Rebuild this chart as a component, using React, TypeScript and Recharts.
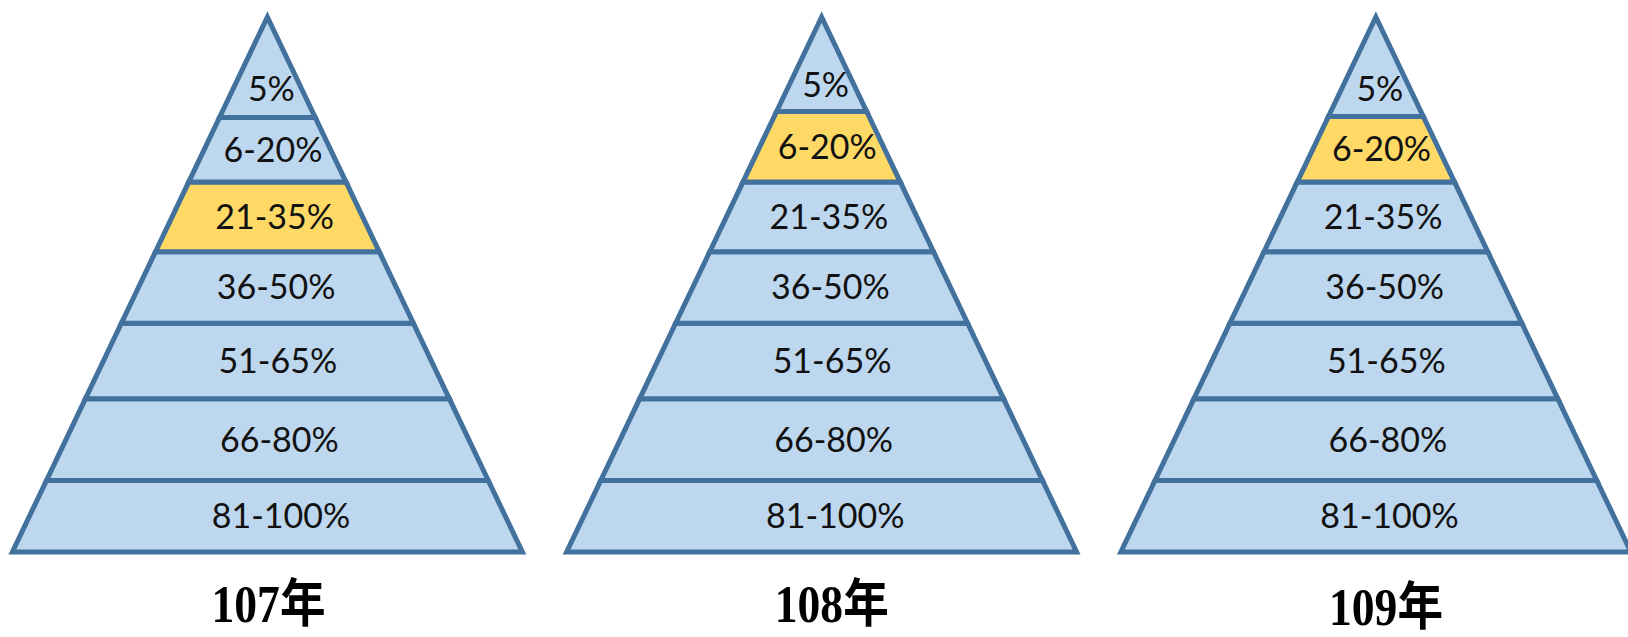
import { BarChart, Bar, XAxis, YAxis } from 'recharts';

// bands listed top (tip) to bottom (base)
const bands = ['5%', '6-20%', '21-35%', '36-50%', '51-65%', '66-80%', '81-100%'];
const years = ['107年', '108年', '109年'];

// drawn height of each band, top to bottom
const heights107 = [101, 65, 70, 72, 76, 82, 72];
const heights108 = [95, 71, 70, 72, 76, 82, 72];
const heights109 = [100, 66, 70, 72, 76, 82, 72];

// the band marked in yellow for each year
const highlighted = ['21-35%', '6-20%', '6-20%'];

const bandHeights = [heights107, heights108, heights109];
const data = years.map((year, r) => {
  const row: Record<string, string | number> = { year, highlight: highlighted[r] };
  bands.forEach((_, i) => {
    row[`b${i}`] = bandHeights[r][i];
  });
  return row;
});

const W = 1628;
const H = 637;
const PLOT_TOP = 17;
const PLOT_BOTTOM = 552;
const XAXIS_H = 60;
const BAR_W = 510;

const FILL = '#BDD7EE';
const HILITE = '#FFD966';
const EDGE = '#41719C';

// small per-year nudges for the year captions
const yearDx = [1, 10, 10];
const yearBase = [70, 70, 73];

function makeShape(bandIndex: number) {
  return function Trapezoid(props: any) {
    const { x, y, width, height, payload } = props;
    if (width == null || height == null) return null;
    const cx = x + width / 2;
    const span = PLOT_BOTTOM - PLOT_TOP;
    const hwTop = ((width / 2) * (y - PLOT_TOP)) / span;
    const hwBot = ((width / 2) * (y + height - PLOT_TOP)) / span;
    const name = bands[bandIndex];
    const fill = payload.highlight === name ? HILITE : FILL;
    const pts = [
      `${cx - hwTop},${y}`,
      `${cx + hwTop},${y}`,
      `${cx + hwBot},${y + height}`,
      `${cx - hwBot},${y + height}`,
    ].join(' ');
    // tip band is a triangle, so its label sits lower
    const labelY = bandIndex === 0 ? y + height * 0.72 : y + height / 2;
    return (
      <g>
        <polygon points={pts} fill={fill} stroke={EDGE} strokeWidth={5} strokeLinejoin="miter" />
        <text
          x={cx + 4 + bandIndex * 1.6}
          y={labelY + 12}
          textAnchor="middle"
          fontFamily="Lato, 'Open Sans', sans-serif"
          fontSize={34}
          fill="#111"
        >
          {name}
        </text>
      </g>
    );
  };
}

function YearTick(props: any) {
  const { x, payload, index } = props;
  return (
    <text
      x={x + yearDx[index]}
      y={PLOT_BOTTOM + yearBase[index]}
      textAnchor="middle"
      fontFamily="'Liberation Serif', 'Noto Sans CJK TC', serif"
      fontWeight="bold"
      fontSize={52}
      textLength={114}
      lengthAdjust="spacingAndGlyphs"
      fill="#000"
    >
      {payload.value}
    </text>
  );
}

export default function App() {
  const plotW = 3 * 554.25;
  const left = 267.5 - 554.25 / 2;
  const right = W - left - plotW;
  // stack from the base upward
  const order = bands.map((_, i) => i).reverse();
  return (
    <div style={{ position: 'absolute', left: 0, top: 0, width: W, height: H, background: '#fff' }}>
      <BarChart
        width={W}
        height={H}
        data={data}
        margin={{ top: PLOT_TOP, right, bottom: H - PLOT_BOTTOM - XAXIS_H, left }}
      >
        <XAxis
          dataKey="year"
          height={XAXIS_H}
          axisLine={false}
          tickLine={false}
          interval={0}
          tick={<YearTick />}
        />
        <YAxis hide type="number" domain={[0, 'dataMax']} />
        {order.map((i) => (
          <Bar
            key={bands[i]}
            dataKey={`b${i}`}
            stackId="pyramid"
            barSize={BAR_W}
            shape={makeShape(i)}
            isAnimationActive={false}
          />
        ))}
      </BarChart>
    </div>
  );
}
